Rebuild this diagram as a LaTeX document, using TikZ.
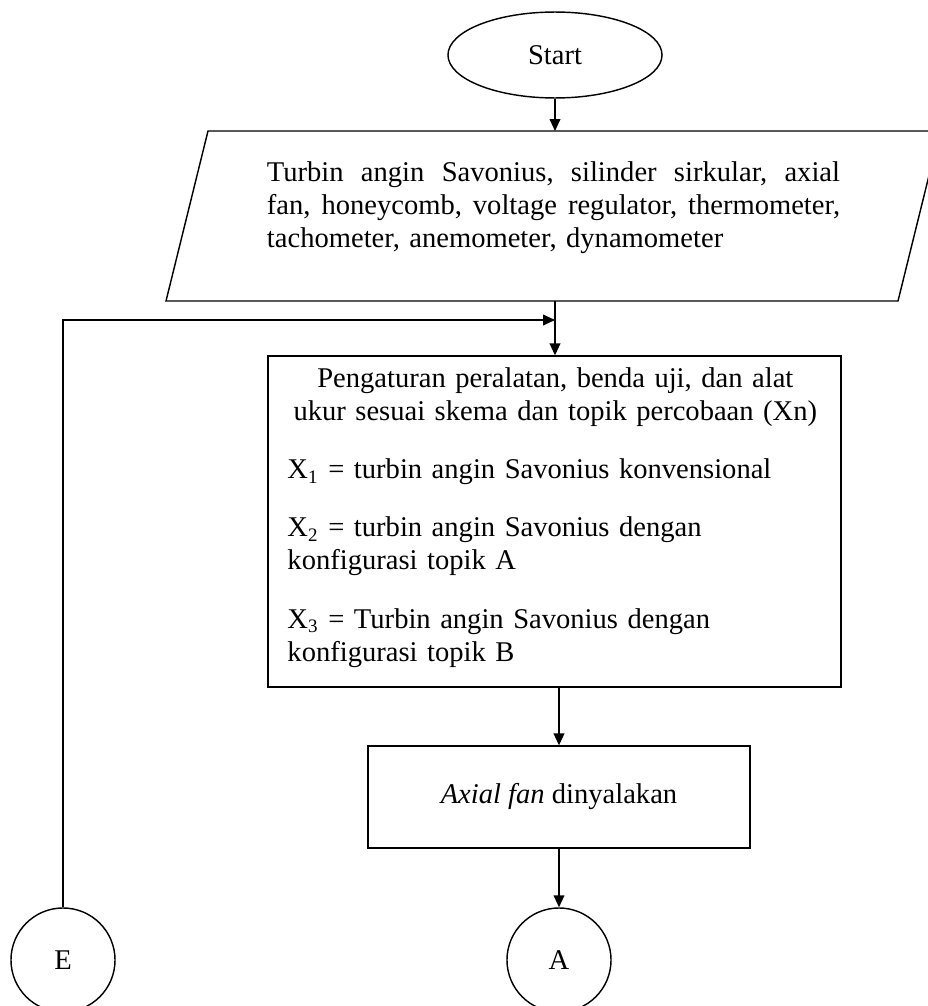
\documentclass[tikz,border=0pt]{standalone}
\usepackage{fontspec}
\setmainfont{Liberation Serif}
\usetikzlibrary{arrows.meta,shapes.geometric,positioning}

\begin{document}
\begin{tikzpicture}[x=0.42pt, y=-0.42pt, >={Triangle[width=4.5pt,length=5pt]},
  every node/.style={font=\fontsize{12}{13.9}\selectfont},
  line/.style={line width=0.6pt},
  flow/.style={line width=0.6pt, ->},
  terminal/.style={draw, ellipse, line width=0.6pt, minimum width=89.9pt, minimum height=36.1pt},
  process/.style={draw, rectangle, line width=0.6pt},
  connector/.style={draw, circle, line width=0.6pt, minimum size=43.7pt, inner sep=0pt}]

  \useasboundingbox (0,0) rectangle (928,1006);

  % Start
  \node[terminal] (start) at (555,55) {Start};

  % Input: peralatan dan alat ukur
  \draw[line] (208,131) -- (940,131) -- (898,301) -- (166,301) -- cycle;
  \coordinate (inpN) at (555,131);
  \coordinate (inpS) at (555,301);
  \node[text width=240.7pt, align=left, inner sep=0pt] (inp) at (553.5,208) {%
    \leavevmode\hbox to 240.7pt{Turbin\hfill angin\hfill Savonius,\hfill silinder\hfill sirkular,\hfill axial}\\
    \leavevmode\hbox to 240.7pt{fan,\hfill honeycomb,\hfill voltage\hfill regulator,\hfill thermometer,}\\
    tachometer, anemometer, dynamometer};

  % Pengaturan
  \node[process, minimum width=240.7pt, minimum height=139pt] (setup) at (554.5,521.5) {};
  \node[text width=225pt, align=left, inner sep=0pt, anchor=west] (setupText) at (287,517.5) {%
    \makebox[225pt]{Pengaturan peralatan, benda uji, dan alat}\\
    \makebox[225pt]{ukur sesuai skema dan topik percobaan (Xn)}\\[10.5pt]
    X\textsubscript{1} = turbin angin Savonius konvensional\\[10.5pt]
    X\textsubscript{2} = turbin angin Savonius dengan\\
    konfigurasi topik A\\[10.5pt]
    X\textsubscript{3} = Turbin angin Savonius dengan\\
    konfigurasi topik B};

  % Axial fan
  \node[process, minimum width=160.4pt, minimum height=42.8pt] (fan) at (559,797) {\textit{Axial fan} dinyalakan};

  % Penghubung
  \node[connector] (A) at (559,960) {A};
  \node[connector] (E) at (63,960) {E};
  \coordinate (join) at (555,320);

  % Alur
  \draw[flow] (start) -- (inpN);
  \draw[flow] (inpS) -- (inpS |- setup.north);
  \draw[flow] (E) |- (join);
  \draw[flow] (fan.north |- setup.south) -- (fan.north);
  \draw[flow] (fan) -- (A);
\end{tikzpicture}
\end{document}
